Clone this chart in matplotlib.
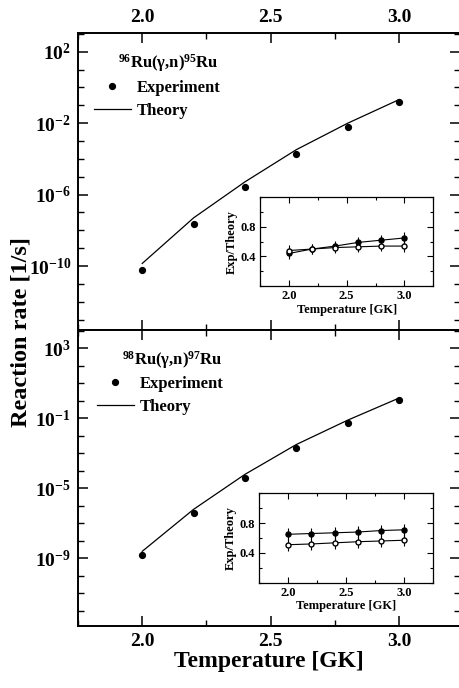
import numpy as np
import matplotlib
matplotlib.use("Agg")
import matplotlib.pyplot as plt
from matplotlib.ticker import FixedLocator, LogFormatterSciNotation, NullFormatter, MultipleLocator

plt.rcParams['font.family'] = ['Liberation Serif', 'DejaVu Serif']
plt.rcParams['font.weight'] = 'bold'
plt.rcParams['mathtext.fontset'] = 'custom'
plt.rcParams['mathtext.rm'] = 'Liberation Serif:bold'
plt.rcParams['mathtext.it'] = 'Liberation Serif:bold'
plt.rcParams['mathtext.bf'] = 'Liberation Serif:bold'
plt.rcParams['axes.unicode_minus'] = True

# ---- data ----
temperature = [2.0, 2.2, 2.4, 2.6, 2.8, 3.0]

ru96_exp = [6.0e-11, 2.2e-8, 2.8e-6, 1.9e-4, 6.3e-3, 0.15]
ru96_theory = [1.4e-10, 5.0e-8, 5.2e-6, 3.3e-4, 1.0e-2, 0.21]
ru98_exp = [1.55e-9, 3.7e-7, 3.9e-5, 1.95e-3, 5.6e-2, 1.12]
ru98_theory = [2.5e-9, 6.3e-7, 6.3e-5, 3.2e-3, 7.9e-2, 1.45]

ru96_ratio_filled = [0.44, 0.50, 0.54, 0.59, 0.62, 0.65]
ru96_ratio_open = [0.48, 0.50, 0.52, 0.53, 0.54, 0.54]
ru96_ratio_err = [0.07, 0.07, 0.07, 0.07, 0.07, 0.08]
ru98_ratio_filled = [0.65, 0.66, 0.67, 0.68, 0.70, 0.71]
ru98_ratio_open = [0.51, 0.52, 0.535, 0.55, 0.56, 0.57]
ru98_ratio_err = [0.08, 0.08, 0.08, 0.08, 0.08, 0.08]

top_title = r"$^{96}$Ru(γ,n)$^{95}$Ru"
bot_title = r"$^{98}$Ru(γ,n)$^{97}$Ru"
top_major = [1e2, 1e-2, 1e-6, 1e-10]
bot_major = [1e3, 1e-1, 1e-5, 1e-9]
x_ticks = [2.0, 2.5, 3.0]
inset_yticks = [0.4, 0.8]

W, H = 460, 688
fig = plt.figure(figsize=(W / 100, H / 100), dpi=100)

def frac(x0, y0, x1, y1):
    return [x0 / W, 1 - y1 / H, (x1 - x0) / W, (y1 - y0) / H]

ax_top = fig.add_axes(frac(78, 33, 459.5, 330))
ax_bot = fig.add_axes(frac(78, 330, 459.5, 626))

def style_main(ax, exp, theo, major, ylim, title, titlepos, legpos, top=False):
    ax.plot(temperature, theo, '-', color='black', lw=0.9, label='Theory')
    ax.plot(temperature, exp, 'o', color='black', ms=4.2, label='Experiment', ls='none')
    ax.set_yscale('log')
    ax.set_xlim(1.75, 3.235)
    ax.set_ylim(*ylim)
    ax.yaxis.set_major_locator(FixedLocator(major))
    ax.yaxis.set_major_formatter(LogFormatterSciNotation())
    minors = [10.0 ** k for k in range(-20, 8)]
    ax.yaxis.set_minor_locator(FixedLocator(minors))
    ax.yaxis.set_minor_formatter(NullFormatter())
    ax.xaxis.set_major_locator(FixedLocator(x_ticks))
    ax.xaxis.set_minor_locator(MultipleLocator(0.25))
    ax.tick_params(which='both', direction='in', top=True, right=True,
                   labelsize=14, pad=5)
    ax.tick_params(which='major', length=7, width=1.1)
    ax.tick_params(which='minor', length=4, width=1.0)
    if top:
        ax.tick_params(labeltop=True, labelbottom=False)
    for s in ax.spines.values():
        s.set_linewidth(1.4)
    ax.text(titlepos[0], titlepos[1], title, transform=ax.transAxes,
            fontsize=12, fontweight='bold', ha='left', va='center')
    h, l = ax.get_legend_handles_labels()
    ax.legend([h[1], h[0]], [l[1], l[0]], loc='center left',
              bbox_to_anchor=legpos, frameon=False, fontsize=12,
              handlelength=2.2, handletextpad=0.35,
              labelspacing=0.4, borderpad=0, borderaxespad=0)

style_main(ax_top, ru96_exp, ru96_theory, top_major, (10 ** -13.58, 10 ** 3.05),
           top_title, (0.105, 0.899), (0.042, 0.776), top=True)
style_main(ax_bot, ru98_exp, ru98_theory, bot_major, (10 ** -12.87, 10 ** 4.05),
           bot_title, (0.115, 0.899), (0.05, 0.779))

ax_bot.set_xlabel('Temperature [GK]', fontsize=17, fontweight='bold', labelpad=1)
fig.text(0.045, 1 - 332 / H, 'Reaction rate [1/s]', rotation=90, fontsize=17.5,
         fontweight='bold', ha='center', va='center')

def style_inset(ax, filled, opn, err):
    ax.errorbar(temperature, filled, yerr=err, fmt='-o', color='black',
                ms=3.6, lw=0.8, elinewidth=0.8, capsize=0, mfc='black', mec='black')
    ax.errorbar(temperature, opn, yerr=err, fmt='-o', color='black',
                ms=3.6, lw=0.8, elinewidth=0.8, capsize=0, mfc='white', mec='black')
    ax.set_xlim(1.75, 3.25)
    ax.set_ylim(0.0, 1.2)
    ax.xaxis.set_major_locator(FixedLocator(x_ticks))
    ax.xaxis.set_minor_locator(MultipleLocator(0.25))
    ax.yaxis.set_major_locator(FixedLocator(inset_yticks))
    ax.yaxis.set_minor_locator(MultipleLocator(0.2))
    ax.tick_params(which='both', direction='in', top=True, right=True,
                   labelsize=9, pad=3)
    ax.tick_params(which='major', length=4, width=0.8)
    ax.tick_params(which='minor', length=2.5, width=0.8)
    for s in ax.spines.values():
        s.set_linewidth(0.9)
    ax.set_xlabel('Temperature [GK]', fontsize=9, fontweight='bold', labelpad=1)
    ax.set_ylabel('Exp/Theory', fontsize=9, fontweight='bold', labelpad=2)

in_top = fig.add_axes(frac(260, 197.3, 433.3, 286))
in_bot = fig.add_axes(frac(259.3, 493.3, 433, 582.7))
style_inset(in_top, ru96_ratio_filled, ru96_ratio_open, ru96_ratio_err)
style_inset(in_bot, ru98_ratio_filled, ru98_ratio_open, ru98_ratio_err)

fig.savefig('out.png', dpi=100)
